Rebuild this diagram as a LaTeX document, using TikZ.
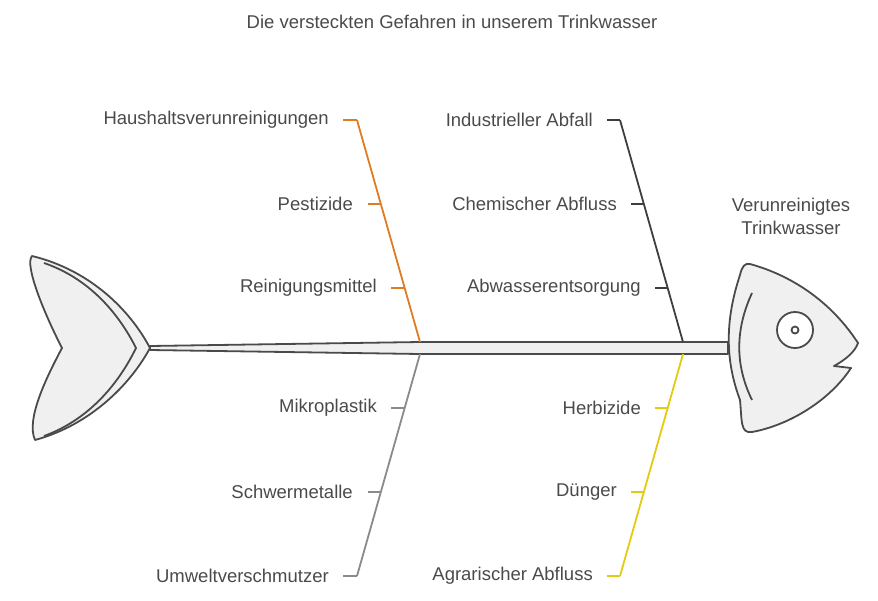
\documentclass[tikz,border=0pt]{standalone}
\usepackage{fontspec}
\setmainfont{Liberation Sans}
\begin{document}
\begin{tikzpicture}[x=1pt,y=-1pt,
  lbl/.style={anchor=east,text=txt,font=\fontsize{18.5}{21}\selectfont,inner sep=0pt},
  bone/.style={line width=1.8pt},
  fishline/.style={draw=fish,line width=1.8pt,line join=round}]
\definecolor{txt}{HTML}{4A4A4A}
\definecolor{fish}{HTML}{4A4A4A}
\definecolor{fillc}{HTML}{F0F0F0}
\definecolor{orng}{HTML}{E07B22}
\definecolor{drk}{HTML}{3E3E3E}
\definecolor{gry}{HTML}{8A8A8A}
\definecolor{ylw}{HTML}{E2CB10}
\useasboundingbox (0,0) rectangle (878,600);
\node[text=txt,font=\fontsize{18.5}{21}\selectfont] (title) at (452,22) {Die versteckten Gefahren in unserem Trinkwasser};
\node[text=txt,font=\fontsize{18.5}{23}\selectfont,align=center] (head) at (791,216) {Verunreinigtes\\Trinkwasser};
% tail
\draw[fishline,fill=fillc] (32,256) .. controls (90,270) and (130,310) .. (150,348) .. controls (130,385) and (90,425) .. (35,440) .. controls (26,420) and (45,380) .. (62,348) .. controls (45,315) and (24,265) .. cycle;
\draw[fishline] (44,263) .. controls (88,278) and (118,312) .. (136,348) .. controls (118,385) and (88,420) .. (44,436);
% spine
\draw[fishline,fill=fillc] (150,346) -- (420,342) -- (728,342) -- (728,354) -- (420,354) -- (150,350) -- cycle;
% head
\draw[fishline,fill=fillc] (750,264) .. controls (790,275) and (830,300) .. (858,343) .. controls (855,352) and (845,360) .. (834,366) -- (851,368) .. controls (830,400) and (790,425) .. (752,432) .. controls (740,434) and (742,420) .. (740,400) .. controls (725,360) and (725,320) .. (740,275) .. controls (742,266) and (745,263) .. cycle;
\draw[fishline] (752,293) .. controls (735,330) and (735,365) .. (752,400);
\draw[fishline,fill=white] (795,330) circle (18);
\draw[fishline] (795,330) circle (3.5);
% bones
\coordinate (o1) at (357,120); \coordinate (o2) at (420,342);
\draw[bone,orng] (o1) -- (o2);
\draw[bone,orng] (343,120) -- (357,120) (368,204) -- (381,204) (391,288) -- (405,288);
\node[lbl] (a1) at (329,120) {Haushaltsverunreinigungen};
\node[lbl] (a2) at (353,204) {Pestizide};
\node[lbl] (a3) at (377,288) {Reinigungsmittel};
\coordinate (d1) at (620,120); \coordinate (d2) at (683,342);
\draw[bone,drk] (d1) -- (d2);
\draw[bone,drk] (607,120) -- (620,120) (631,204) -- (644,204) (655,288) -- (668,288);
\node[lbl] (b1) at (593,120) {Industrieller Abfall};
\node[lbl] (b2) at (617,204) {Chemischer Abfluss};
\node[lbl] (b3) at (641,288) {Abwasserentsorgung};
\coordinate (g1) at (420,354); \coordinate (g2) at (357,576);
\draw[bone,gry] (g1) -- (g2);
\draw[bone,gry] (391,408) -- (405,408) (368,492) -- (381,492) (343,576) -- (357,576);
\node[lbl] (c1) at (377,408) {Mikroplastik};
\node[lbl] (c2) at (353,492) {Schwermetalle};
\node[lbl] (c3) at (329,576) {Umweltverschmutzer};
\coordinate (y1) at (683,354); \coordinate (y2) at (620,576);
\draw[bone,ylw] (y1) -- (y2);
\draw[bone,ylw] (655,408) -- (668,408) (631,492) -- (644,492) (607,576) -- (620,576);
\node[lbl] (e1) at (641,408) {Herbizide};
\node[lbl] (e2) at (617,492) {Dünger};
\node[lbl] (e3) at (593,576) {Agrarischer Abfluss};
\end{tikzpicture}
\end{document}
